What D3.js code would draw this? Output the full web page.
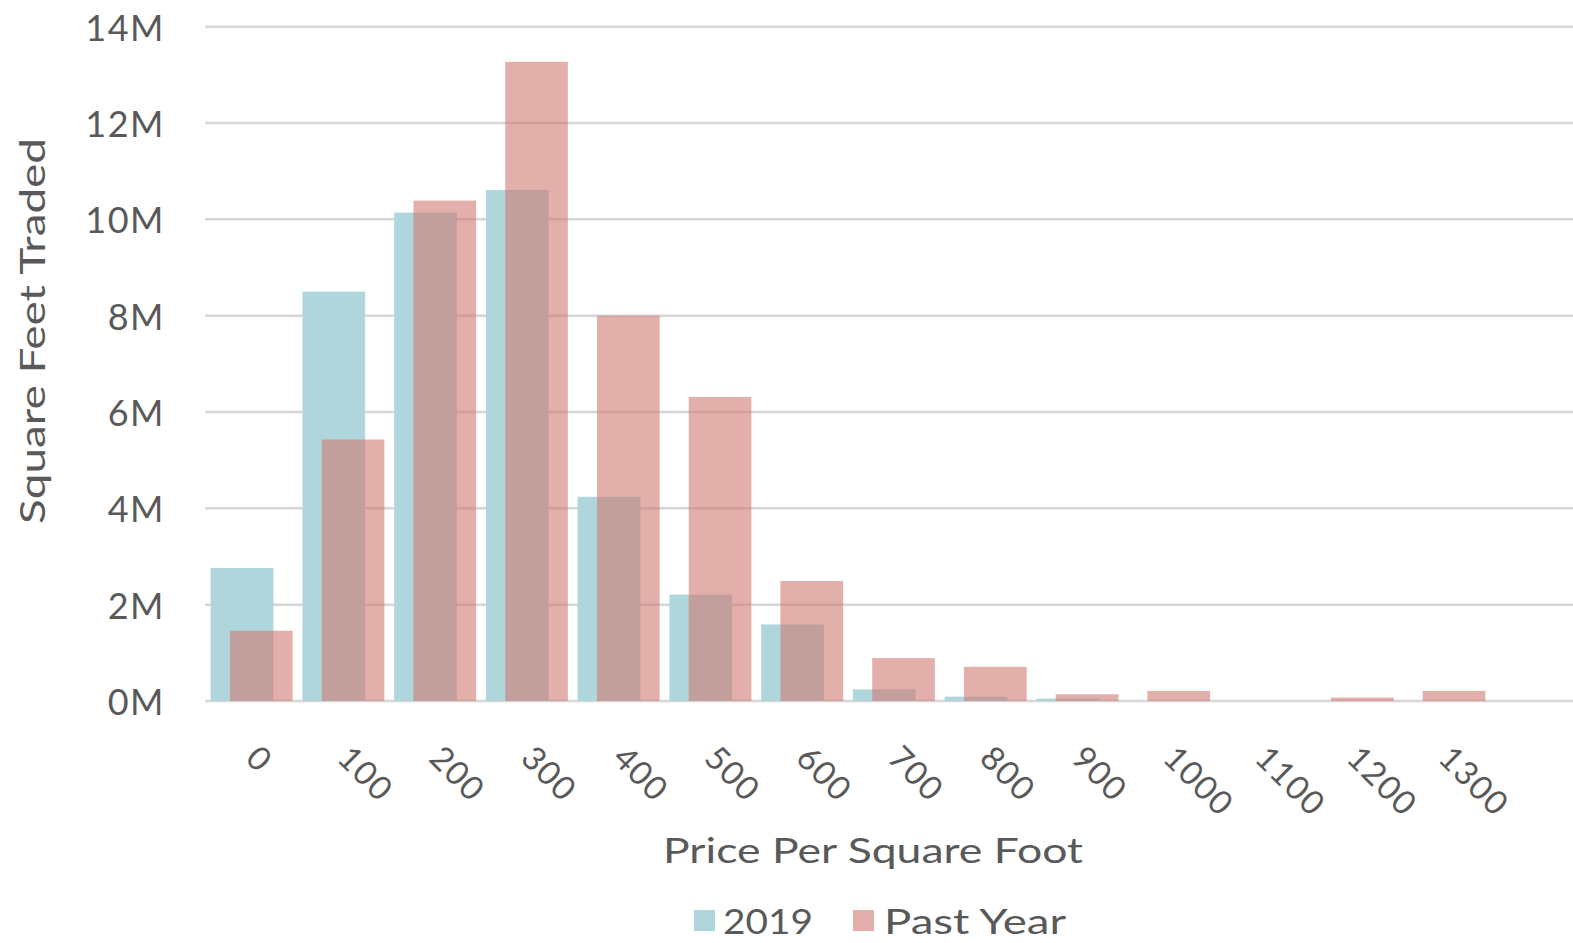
<!DOCTYPE html>
<html>
<head>
<meta charset="utf-8">
<script src="https://cdn.jsdelivr.net/npm/d3@7"></script>
<style>
  html, body { margin: 0; padding: 0; background: #fff; }
  svg { display: block; font-family: "Lato", "Open Sans", sans-serif; }
</style>
</head>
<body>
<svg id="chart" width="1573" height="943"></svg>
<script>
const categories = ["0","100","200","300","400","500","600","700","800","900","1000","1100","1200","1300"];
const values2019 = [2.76, 8.5, 10.14, 10.61, 4.24, 2.21, 1.59, 0.24, 0.09, 0.05, 0, 0, 0, 0];
const valuesPast = [1.46, 5.43, 10.39, 13.27, 8.0, 6.31, 2.49, 0.89, 0.71, 0.14, 0.21, 0, 0.07, 0.21];
const yTicks = [0, 2, 4, 6, 8, 10, 12, 14];
const seriesNames = ["2019", "Past Year"];

(function () {
const plotLeft = 205, gridRight = 1573, plotTop = 26.7, plotBottom = 701;
const step = 91.75;
const textColor = "#595959";
const c2019 = "#b0d6dd";
const cPast = "#cf7a72";
const pastOpacity = 0.6;

const svg = d3.select("#chart");

const x = d3.scaleBand().domain(categories).range([plotLeft, plotLeft + step * categories.length]).paddingInner(0).paddingOuter(0);
const y = d3.scaleLinear().domain([0, 14]).range([plotBottom, plotTop]);

// gridlines
svg.append("g").selectAll("line").data(yTicks).join("line")
  .attr("x1", plotLeft).attr("x2", gridRight)
  .attr("y1", d => y(d)).attr("y2", d => y(d))
  .attr("stroke", "#d6d6d6").attr("stroke-width", 2.5);

// y tick labels
svg.append("g").selectAll("text").data(yTicks).join("text")
  .attr("x", 165).attr("y", d => y(d))
  .attr("text-anchor", "end").attr("dominant-baseline", "central")
  .attr("fill", textColor).attr("font-size", 36).attr("letter-spacing", 1.5)
  .text(d => d + "M");

const bw = x.bandwidth();
const barW = bw * 0.683;
const off2019 = bw * 0.062;
const offPast = bw * 0.272;

// 2019 bars
svg.append("g").selectAll("rect").data(categories).join("rect")
  .attr("x", (d) => x(d) + off2019)
  .attr("width", barW)
  .attr("y", (d, i) => y(values2019[i]))
  .attr("height", (d, i) => y(0) - y(values2019[i]))
  .attr("fill", c2019);

// Past Year bars
svg.append("g").selectAll("rect").data(categories).join("rect")
  .attr("x", (d) => x(d) + offPast)
  .attr("width", barW)
  .attr("y", (d, i) => y(valuesPast[i]))
  .attr("height", (d, i) => y(0) - y(valuesPast[i]))
  .attr("fill", cPast).attr("fill-opacity", pastOpacity);

// x tick labels
svg.append("g").selectAll("text").data(categories).join("text")
  .attr("transform", d => `translate(${x(d) + bw / 2 - 7},760) rotate(45)`)
  .attr("text-anchor", "start")
  .attr("fill", textColor).attr("font-size", 33).attr("letter-spacing", 1.5)
  .text(d => d);

// axis titles
svg.append("text")
  .attr("x", 873).attr("y", 863)
  .attr("text-anchor", "middle")
  .attr("fill", textColor).attr("font-size", 34)
  .attr("textLength", 420).attr("lengthAdjust", "spacingAndGlyphs")
  .text("Price Per Square Foot");

svg.append("text")
  .attr("transform", "translate(45,331) rotate(-90)")
  .attr("text-anchor", "middle")
  .attr("fill", textColor).attr("font-size", 34)
  .attr("textLength", 386).attr("lengthAdjust", "spacingAndGlyphs")
  .text("Square Feet Traded");

// legend
const legend = svg.append("g");
const legendItems = [
  { name: seriesNames[0], color: c2019, op: 1, sx: 694, tx: 723, len: 90 },
  { name: seriesNames[1], color: cPast, op: pastOpacity, sx: 853, tx: 884, len: 182 }
];
legendItems.forEach(it => {
  legend.append("rect").attr("x", it.sx).attr("y", 910).attr("width", 21).attr("height", 21)
    .attr("fill", it.color).attr("fill-opacity", it.op);
  legend.append("text").attr("x", it.tx).attr("y", 934)
    .attr("fill", textColor).attr("font-size", 35)
    .attr("textLength", it.len).attr("lengthAdjust", "spacingAndGlyphs")
    .text(it.name);
});
})();
</script>
</body>
</html>
